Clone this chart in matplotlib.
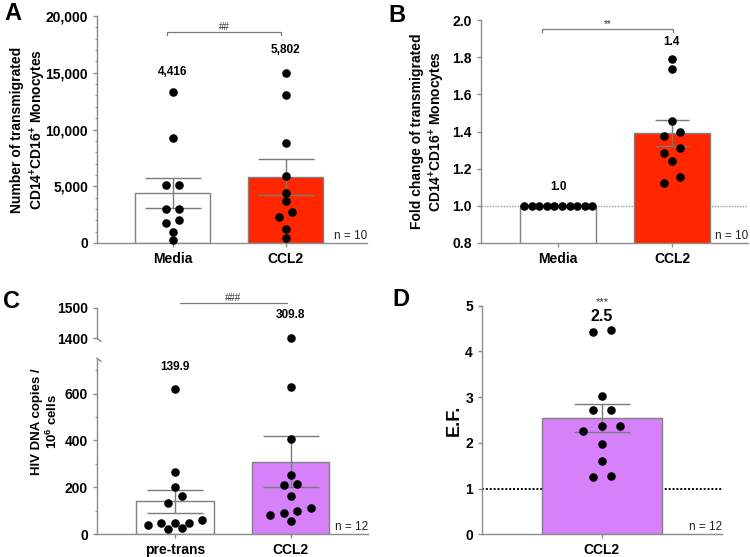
import matplotlib
matplotlib.use("Agg")
import matplotlib.pyplot as plt
import numpy as np
from matplotlib.ticker import FuncFormatter, MultipleLocator

plt.rcParams["font.family"] = ["Liberation Sans", "DejaVu Sans"]
plt.rcParams["mathtext.fontset"] = "custom"
plt.rcParams["mathtext.rm"] = "Liberation Sans:bold"
plt.rcParams["mathtext.bf"] = "Liberation Sans:bold"
plt.rcParams["mathtext.it"] = "Liberation Sans:bold"

# ---- data ----
a_groups = ["Media", "CCL2"]
a_means = [4416, 5802]
a_sem = [1300, 1570]
a_media = [13300, 9250, 5100, 5100, 3000, 3000, 2000, 1800, 1000, 260]
a_ccl2 = [15000, 13000, 8840, 5930, 4435, 3670, 2700, 2290, 1260, 470]

b_groups = ["Media", "CCL2"]
b_means = [1.0, 1.39]
b_sem = [0.0, 0.07]
b_media = [1.0] * 10
b_ccl2 = [1.79, 1.735, 1.458, 1.399, 1.376, 1.313, 1.283, 1.24, 1.157, 1.121]

c_groups = ["pre-trans", "CCL2"]
c_means = [139.9, 309.8]
c_sem = [48, 110]
c_pre = [620, 265, 200, 165, 135, 62, 49, 49, 48, 38, 25, 21]
c_ccl2 = [1400, 626, 407, 254, 215, 212, 165, 112, 100, 89, 81, 58]

d_groups = ["CCL2"]
d_means = [2.54]
d_sem = [0.30]
d_ccl2 = [4.475, 4.42, 3.025, 2.71, 2.71, 2.37, 2.37, 2.25, 1.98, 1.60, 1.275, 1.26]

SPINE = "#8c8c8c"
EDGE = "#808080"
ERR = "#7a7a7a"
RED = "#ff2600"
PURPLE = "#d680f9"
W, H = 750, 557


def px_axes(fig, left, top, right, bottom):
    return fig.add_axes([left / W, 1 - bottom / H, (right - left) / W, (bottom - top) / H])


def style(ax):
    for s in ("top", "right"):
        ax.spines[s].set_visible(False)
    for s in ("left", "bottom"):
        ax.spines[s].set_color(SPINE)
        ax.spines[s].set_linewidth(1.0)
    ax.tick_params(which="major", colors=SPINE, labelcolor="black", length=3, width=1,
                   labelsize=10)
    ax.tick_params(which="minor", colors=SPINE, length=1.6, width=0.8)
    for lbl in ax.get_yticklabels():
        lbl.set_fontweight("bold")
    ax.set_facecolor("none")


def swarm_x(ax, vals, center, step, tol_px=7.5, max_span=0.6):
    vals = np.asarray(vals, dtype=float)
    y0, y1 = ax.get_ylim()
    hpx = ax.get_position().height * H
    tol = tol_px / hpx * (y1 - y0)
    order = np.argsort(-vals, kind="stable")
    rows = []
    for i in order:
        if rows and vals[rows[-1][0]] - vals[i] <= tol:
            rows[-1].append(i)
        else:
            rows.append([i])
    xs = np.empty(len(vals))
    for row in rows:
        row = sorted(row, key=lambda j: vals[j])
        n = len(row)
        s = step if n == 1 else min(step, max_span / (n - 1))
        for k, j in enumerate(row):
            xs[j] = center + (k - (n - 1) / 2) * s
    return xs


def bars(ax, groups, means, sem, colors, capsize=20):
    x = np.arange(len(groups))
    ax.bar(x, means, width=0.667, color=colors, edgecolor=EDGE, linewidth=1.0, zorder=2)
    ax.errorbar(x, means, yerr=sem, fmt="none", ecolor=ERR, elinewidth=1.0,
                capsize=capsize, capthick=1.0, zorder=3)
    ax.set_xticks(x)
    ax.set_xticklabels(groups, fontsize=10.5, fontweight="bold")
    return x


def dots(ax, vals, center, step):
    xs = swarm_x(ax, vals, center, step)
    ax.scatter(xs, vals, s=38, color="black", zorder=4, linewidths=0, clip_on=False)


def bracket(ax, x0, x1, y, text, dy):
    ax.plot([x0, x0, x1, x1], [y - dy, y, y, y - dy], color=ERR, lw=0.9, clip_on=False)
    ax.text((x0 + x1) / 2, y, text, ha="center", va="bottom", fontsize=7,
            color="#333333", clip_on=False)


def n_label(ax, text):
    ax.text(1.0, 0.006, text, transform=ax.transAxes, ha="right", va="bottom",
            fontsize=8.5, color="#222222")


fig = plt.figure(figsize=(W / 100, H / 100), dpi=100)

# ---- A ----
ax = px_axes(fig, 97, 16, 367, 243)
ax.set_xlim(-0.67, 1.72)
ax.set_ylim(0, 20000)
bars(ax, a_groups, a_means, a_sem, ["white", RED])
ax.set_yticks(np.arange(0, 20001, 5000))
ax.yaxis.set_major_formatter(FuncFormatter(lambda v, p: f"{int(v):,}"))
ax.yaxis.set_minor_locator(MultipleLocator(1000))
style(ax)
dots(ax, a_media, 0, 0.117)
dots(ax, a_ccl2, 1, 0.117)
ax.text(0, 15100, f"{a_means[0]:,}", ha="center", va="center", fontsize=8.5, fontweight="bold")
ax.text(1, 17000, f"{a_means[1]:,}", ha="center", va="center", fontsize=8.5, fontweight="bold")
bracket(ax, -0.05, 0.96, 18620, "##", 300)
ax.set_ylabel("Number of transmigrated\nCD14$^{+}$CD16$^{+}$ Monocytes",
              fontsize=10, fontweight="bold", linespacing=1.25)
ax.yaxis.set_label_coords(-0.18, 0.5)
n_label(ax, "n = 10")

# ---- B ----
ax = px_axes(fig, 481, 20, 748, 243)
ax.set_xlim(-0.68, 1.67)
ax.set_ylim(0.8, 2.0)
ax.axhline(1.0, color="#999999", lw=1.0, ls=(0, (1, 1)), zorder=1)
bars(ax, b_groups, b_means, b_sem, ["white", RED], capsize=12)
ax.set_yticks(np.arange(0.8, 2.01, 0.2))
ax.yaxis.set_major_formatter(FuncFormatter(lambda v, p: f"{v:.1f}"))
style(ax)
dots(ax, b_media, 0, 0.138)
dots(ax, b_ccl2, 1, 0.138)
ax.text(0, 1.103, f"{b_means[0]:.1f}", ha="center", va="center", fontsize=8.5, fontweight="bold")
ax.text(1, 1.883, f"{b_means[1]:.1f}", ha="center", va="center", fontsize=8.5, fontweight="bold")
bracket(ax, -0.14, 1.01, 1.95, "**", 0.015)
ax.set_ylabel("Fold change of transmigrated\nCD14$^{+}$CD16$^{+}$ Monocytes",
              fontsize=10, fontweight="bold", labelpad=4, linespacing=1.15)
n_label(ax, "n = 10")

# ---- C (broken axis) ----
axu = px_axes(fig, 97, 307.7, 368, 338.3)
axl = px_axes(fig, 97, 358.3, 368, 534.3)
for a in (axu, axl):
    a.set_xlim(-0.675, 1.67)
axu.set_ylim(1400, 1500)
axl.set_ylim(0, 750)
bars(axl, c_groups, c_means, c_sem, ["white", PURPLE])
axl.set_yticks([0, 200, 400, 600])
axl.yaxis.set_minor_locator(MultipleLocator(100))
style(axl)
axu.set_yticks([1400, 1500])
style(axu)
axu.spines["bottom"].set_visible(False)
axu.set_xticks([])
axl.spines["left"].set_bounds(0, 750)

# split points between the two ranges
c_pre_arr = np.array(c_pre, dtype=float)
c_ccl2_arr = np.array(c_ccl2, dtype=float)
dots(axl, c_pre_arr, 0, 0.118)
dots(axl, c_ccl2_arr[c_ccl2_arr <= 750], 1, 0.118)
dots(axu, c_ccl2_arr[c_ccl2_arr > 750], 1, 0.118)

# break marks
kw = dict(color=SPINE, lw=1.0, clip_on=False)
axu.plot([0, 4 / 271], [0, -3 / 30.6], transform=axu.transAxes, **kw)
axl.plot([0, 4 / 271], [1, 1 - 3 / 176], transform=axl.transAxes, **kw)

axl.text(0, 714, f"{c_means[0]:.1f}", ha="center", va="center", fontsize=8.5, fontweight="bold")
axu.text(1, 1476, f"{c_means[1]:.1f}", ha="center", va="center", fontsize=8.5, fontweight="bold")
bracket(axu, 0.04, 0.97, 1514, "###", 0)
axl.set_ylabel("HIV DNA copies /\n10$^{6}$ cells", fontsize=9.5, fontweight="bold",
               linespacing=1.15)
axl.yaxis.set_label_coords(-0.135, 0.64)
n_label(axl, "n = 12")

# ---- D ----
ax = px_axes(fig, 482, 305.7, 721.7, 534.3)
ax.set_xlim(-0.67, 0.67)
ax.set_ylim(0, 5)
ax.axhline(1.0, color="black", lw=1.4, ls=(0, (1, 1)), zorder=1)
bars(ax, d_groups, d_means, d_sem, [PURPLE])
ax.set_yticks(range(0, 6))
style(ax)
dots(ax, d_ccl2, 0, 0.104)
ax.text(0, 5.07, "***", ha="center", va="center", fontsize=8, color="#333333")
ax.text(0, 4.76, f"{d_means[0]:.1f}", ha="center", va="center", fontsize=11.5, fontweight="bold")
ax.set_ylabel("E.F.", fontsize=13, fontweight="bold", labelpad=2)
n_label(ax, "n = 12")

# ---- panel letters ----
for letter, (x, y) in {"A": (4, 2), "B": (388, 4), "C": (3, 290), "D": (392, 288)}.items():
    fig.text(x / W, 1 - y / H, letter, fontsize=17, fontweight="bold", va="top", ha="left")

fig.savefig("out.png", dpi=100, facecolor="white")
